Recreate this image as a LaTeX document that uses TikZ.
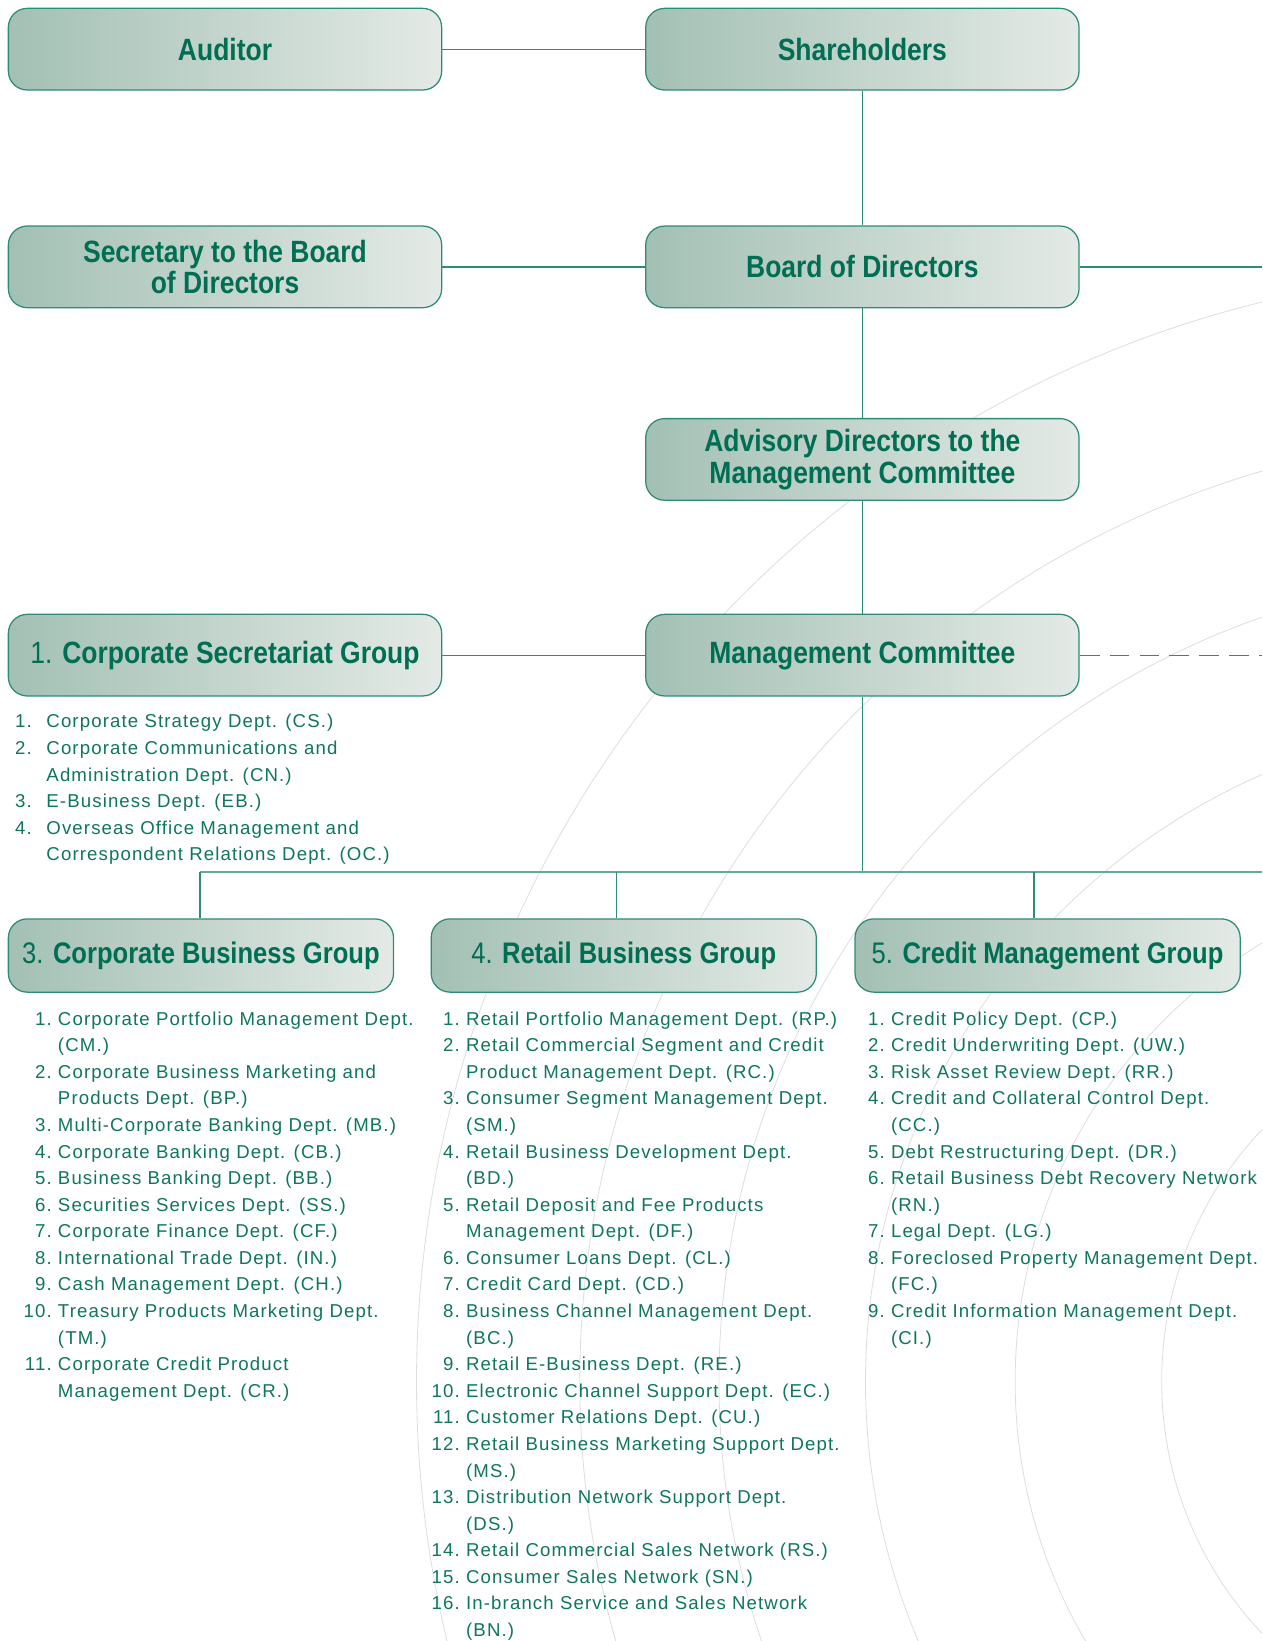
\documentclass[tikz,border=0pt]{standalone}
\usepackage{fontspec}
\usepackage{tikz}
\setmainfont{Liberation Sans}
\newfontfamily\headfam{Liberation Sans}[FakeStretch=0.86]
\newfontfamily\deptfam{Liberation Sans}[LetterSpace=6]
\definecolor{OrgTitleGreen}{RGB}{0,110,82}
\definecolor{OrgListGreen}{RGB}{14,118,92}
\definecolor{OrgLine}{RGB}{45,140,118}
\definecolor{OrgBus}{RGB}{100,170,150}
\definecolor{OrgBoxDark}{RGB}{163,192,180}
\definecolor{OrgBoxLight}{RGB}{228,234,230}
\definecolor{OrgRipple}{RGB}{222,222,222}
\newcommand\boxfont{\headfam\bfseries\fontsize{14.7}{15}\selectfont}
\newcommand\groupfont{\headfam\bfseries\fontsize{14.2}{15}\selectfont}
\newcommand\deptfont{\deptfam\fontsize{8.9}{12.7}\selectfont}
\newcommand\dnum[2][3pt]{\llap{#2\kern#1}}

\begin{document}
\begin{tikzpicture}[x=0.5pt,y=-0.5pt,
  unit/.style={rectangle,rounded corners=9pt,draw=OrgLine,line width=0.6pt,
    left color=OrgBoxDark,right color=OrgBoxLight,minimum width=207pt,
    minimum height=39pt,align=center,text=OrgTitleGreen,font=\boxfont},
  group/.style={unit,minimum width=184pt,minimum height=35pt,font=\groupfont},
  link/.style={draw=OrgLine,line width=0.6pt},
  deptlist/.style={inner sep=0pt,text=OrgListGreen,font=\deptfont,anchor=base west},
  ripple/.style={draw=OrgRipple,line width=0.4pt}]
\useasboundingbox (0,0) rectangle (1206,1568);
% background rings
\begin{scope}
\clip (0,0) rectangle (1206,1568);
\foreach \r in {1062,906,773,633,490,350}
   \draw[ripple] (1460,1320) circle[radius=\r];
\end{scope}
% boxes
\node[unit] (auditor) at (215,47) {Auditor};
\node[unit] (share) at (824,47) {Shareholders};
\node[unit] (secretary) at (215,255) {Secretary to the Board\\of Directors};
\node[unit] (board) at (824,255) {Board of Directors};
\node[unit] (advisory) at (824,439) {Advisory Directors to the\\Management Committee};
\node[unit] (csg) at (215,626) {{\mdseries 1.} Corporate Secretariat Group};
\node[unit] (mc) at (824,626) {Management Committee};
\node[group] (cbg) at (192,913) {{\mdseries 3.} Corporate Business Group};
\node[group] (rbg) at (596,913) {{\mdseries 4.} Retail Business Group};
\node[group] (cmg) at (1001,913) {{\mdseries 5.} Credit Management Group};
\coordinate (edge) at (1206,0);
\coordinate (busL) at (191,833);
\coordinate (busM) at (824,833);
\coordinate (busR) at (1206,833);
\coordinate (bus4) at (589,833);
\coordinate (bus5) at (988,833);
% links
\draw[link] (auditor) -- (share);
\draw[link] (share) -- (board);
\draw[link] (secretary) -- (board);
\draw[link] (board.east) -- (board.east -| edge);
\draw[link] (board) -- (advisory);
\draw[link] (advisory) -- (mc);
\draw[link] (csg) -- (mc);
\draw[link,dash pattern=on 9.5pt off 4.8pt] (mc.east) -- (mc.east -| edge);
\draw[link] (mc) -- (busM);
\draw[link,draw=OrgBus,line width=0.9pt] (busL) -- (busR);
\draw[link] (busL) -- (busL |- cbg.north);
\draw[link] (bus4) -- (bus4 |- rbg.north);
\draw[link] (bus5) -- (bus5 |- cmg.north);
% department lists
\node[deptlist] (csglist) at (44,695.5) {\begin{tabular}[t]{@{}l@{}}
\dnum[7pt]{1.}Corporate Strategy Dept. (CS.)\\
\dnum[7pt]{2.}Corporate Communications and\\
Administration Dept. (CN.)\\
\dnum[7pt]{3.}E-Business Dept. (EB.)\\
\dnum[7pt]{4.}Overseas Office Management and\\
Correspondent Relations Dept. (OC.)
\end{tabular}};
\node[deptlist] (cbglist) at (55,979.5) {\begin{tabular}[t]{@{}l@{}}
\dnum{1.}Corporate Portfolio Management Dept.\\
(CM.)\\
\dnum{2.}Corporate Business Marketing and\\
Products Dept. (BP.)\\
\dnum{3.}Multi-Corporate Banking Dept. (MB.)\\
\dnum{4.}Corporate Banking Dept. (CB.)\\
\dnum{5.}Business Banking Dept. (BB.)\\
\dnum{6.}Securities Services Dept. (SS.)\\
\dnum{7.}Corporate Finance Dept. (CF.)\\
\dnum{8.}International Trade Dept. (IN.)\\
\dnum{9.}Cash Management Dept. (CH.)\\
\dnum{10.}Treasury Products Marketing Dept.\\
(TM.)\\
\dnum{11.}Corporate Credit Product\\
Management Dept. (CR.)
\end{tabular}};
\node[deptlist] (rbglist) at (445,979.5) {\begin{tabular}[t]{@{}l@{}}
\dnum{1.}Retail Portfolio Management Dept. (RP.)\\
\dnum{2.}Retail Commercial Segment and Credit\\
Product Management Dept. (RC.)\\
\dnum{3.}Consumer Segment Management Dept.\\
(SM.)\\
\dnum{4.}Retail Business Development Dept.\\
(BD.)\\
\dnum{5.}Retail Deposit and Fee Products\\
Management Dept. (DF.)\\
\dnum{6.}Consumer Loans Dept. (CL.)\\
\dnum{7.}Credit Card Dept. (CD.)\\
\dnum{8.}Business Channel Management Dept.\\
(BC.)\\
\dnum{9.}Retail E-Business Dept. (RE.)\\
\dnum{10.}Electronic Channel Support Dept. (EC.)\\
\dnum{11.}Customer Relations Dept. (CU.)\\
\dnum{12.}Retail Business Marketing Support Dept.\\
(MS.)\\
\dnum{13.}Distribution Network Support Dept.\\
(DS.)\\
\dnum{14.}Retail Commercial Sales Network (RS.)\\
\dnum{15.}Consumer Sales Network (SN.)\\
\dnum{16.}In-branch Service and Sales Network\\
(BN.)
\end{tabular}};
\node[deptlist] (cmglist) at (851,979.5) {\begin{tabular}[t]{@{}l@{}}
\dnum{1.}Credit Policy Dept. (CP.)\\
\dnum{2.}Credit Underwriting Dept. (UW.)\\
\dnum{3.}Risk Asset Review Dept. (RR.)\\
\dnum{4.}Credit and Collateral Control Dept.\\
(CC.)\\
\dnum{5.}Debt Restructuring Dept. (DR.)\\
\dnum{6.}Retail Business Debt Recovery Network\\
(RN.)\\
\dnum{7.}Legal Dept. (LG.)\\
\dnum{8.}Foreclosed Property Management Dept.\\
(FC.)\\
\dnum{9.}Credit Information Management Dept.\\
(CI.)
\end{tabular}};
\end{tikzpicture}
\end{document}
